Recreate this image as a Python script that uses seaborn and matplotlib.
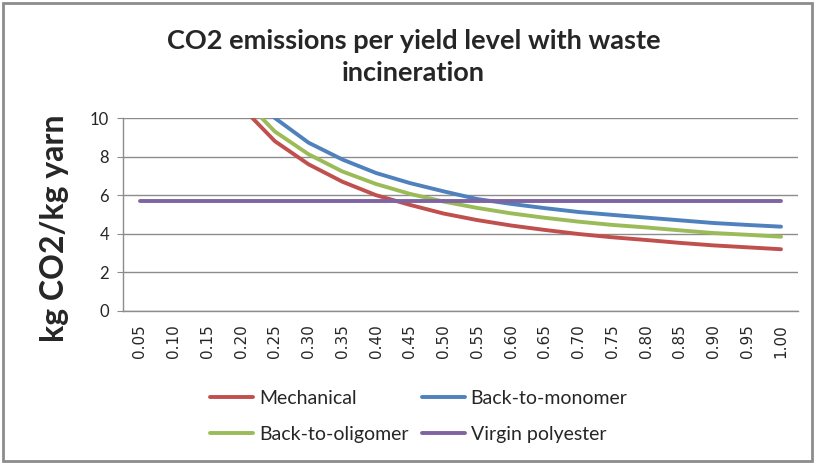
import pandas as pd
import matplotlib
matplotlib.use("Agg")
import matplotlib.pyplot as plt
import seaborn as sns
from matplotlib.patches import Rectangle

# yield levels (x categories)
yield_levels = ["0.05", "0.10", "0.15", "0.20", "0.25", "0.30", "0.35", "0.40", "0.45", "0.50",
                "0.55", "0.60", "0.65", "0.70", "0.75", "0.80", "0.85", "0.90", "0.95", "1.00"]

# kg CO2 / kg yarn (values above 10 run off the top)
mechanical = [38.4, 19.9, 13.7, 10.6, 8.8, 7.6, 6.7, 6.0, 5.5, 5.05,
              4.71, 4.43, 4.2, 3.99, 3.82, 3.68, 3.53, 3.4, 3.3, 3.2]
back_to_monomer = [40.0, 21.3, 15.0, 11.9, 10.0, 8.72, 7.85, 7.15, 6.63, 6.2,
                   5.8, 5.55, 5.33, 5.13, 4.98, 4.84, 4.7, 4.56, 4.46, 4.37]
back_to_oligomer = [38.4, 20.2, 14.2, 11.1, 9.3, 8.12, 7.23, 6.58, 6.07, 5.67,
                    5.34, 5.06, 4.83, 4.63, 4.46, 4.33, 4.18, 4.04, 3.95, 3.85]
virgin_polyester = [5.71] * 20

series_names = ["Mechanical", "Back-to-monomer", "Back-to-oligomer", "Virgin polyester"]
colors = ["#C0504D", "#4F81BD", "#9BBB59", "#8064A2"]

frames = []
for name, vals in zip(series_names, [mechanical, back_to_monomer, back_to_oligomer, virgin_polyester]):
    frames.append(pd.DataFrame({"yield": yield_levels, "value": vals, "series": name}))
df = pd.concat(frames, ignore_index=True)

sns.set_style("white")
plt.rcParams['font.family'] = ['Lato', 'DejaVu Sans']

fig = plt.figure(figsize=(8.17, 4.63), dpi=100)
ax = fig.add_axes([0.1506, 0.3283, 0.826, 0.4168])

sns.lineplot(data=df, x="yield", y="value", hue="series", hue_order=series_names,
             palette=colors, linewidth=2.8, ax=ax, sort=False, legend=True)

ax.set_ylim(0, 10)
ax.set_xlim(-0.5, len(yield_levels) - 0.5)
ax.set_yticks([0, 2, 4, 6, 8, 10])
ax.yaxis.grid(True, color="#8c8c8c", linewidth=1)
ax.set_axisbelow(True)
for s in ["top", "right"]:
    ax.spines[s].set_visible(False)
for s in ["left", "bottom"]:
    ax.spines[s].set_color("#8c8c8c")
    ax.spines[s].set_linewidth(1)
ax.tick_params(axis="y", which="both", left=True, length=4, color="#8c8c8c",
               labelsize=12, pad=6)
ax.tick_params(axis="x", bottom=False, labelsize=11, pad=6)
plt.setp(ax.get_xticklabels(), rotation=90, family="DejaVu Sans")
ax.set_xlabel("")
ax.set_ylabel("kg CO2/kg yarn", fontsize=23, fontweight="bold")
ax.yaxis.set_label_coords(-0.08, 0.43)

fig.text(0.506, 0.877, "CO2 emissions per yield level with waste\nincineration",
         ha="center", va="center", fontsize=19.5, fontweight="bold", linespacing=1.4)

# row-major legend order: reorder for matplotlib's column filling
handles, labels = ax.get_legend_handles_labels()
order = [0, 2, 1, 3]
leg = ax.legend([handles[i] for i in order], [labels[i] for i in order],
                loc="upper left", bbox_to_anchor=(0.236, 0.195),
                bbox_transform=fig.transFigure, ncol=2, frameon=False, fontsize=14,
                handlelength=2.2, columnspacing=0.7, labelspacing=0.95, handletextpad=0.3)

fig.patches.append(Rectangle((0.004, 0.004), 0.99, 0.99, transform=fig.transFigure,
                             fill=False, edgecolor="#8c8c8c", linewidth=2))

fig.savefig("out.png", dpi=100)
